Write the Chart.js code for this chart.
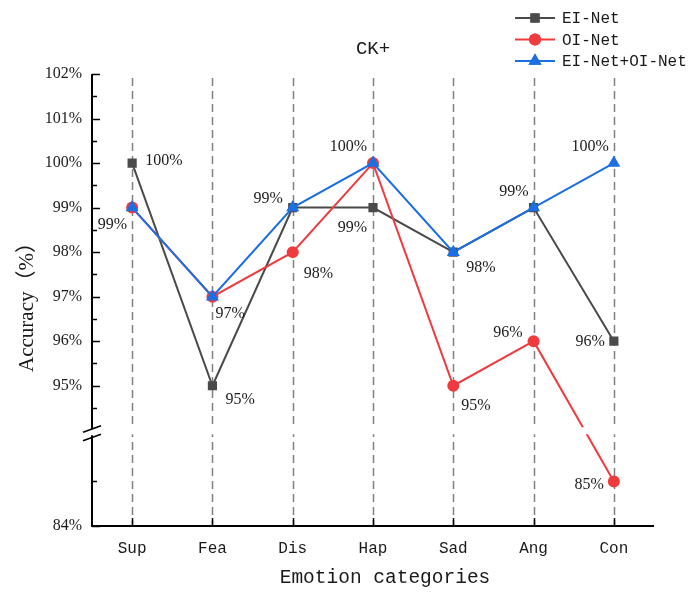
<!DOCTYPE html>
<html><head><meta charset="utf-8">
<script src="https://cdn.jsdelivr.net/npm/chart.js@4/dist/chart.umd.min.js"></script>
<style>html,body{margin:0;padding:0;background:#fff}</style>
</head><body>
<canvas id="c" width="688" height="592"></canvas>
<script>
// ---- data ----
const categories = ['Sup', 'Fea', 'Dis', 'Hap', 'Sad', 'Ang', 'Con'];
const seriesNames = ['EI-Net', 'OI-Net', 'EI-Net+OI-Net'];
const eiNet   = [100, 95, 99, 99, 98, 99, 96];
const oiNet   = [99, 97, 98, 100, 95, 96, 85];
const eiOiNet = [99, 97, 99, 100, 98, 99, 100];
const yTickValues = [84, 85, 94.5, 95, 95.5, 96, 96.5, 97, 97.5, 98, 98.5, 99, 99.5, 100, 100.5, 101, 101.5, 102];
const yLabeledTicks = [84, 95, 96, 97, 98, 99, 100, 101, 102];
const yMinValue = 84, yMaxValue = 102;
const breakValue = 94;          // axis break (upper side)
const chartTitle = 'CK+';
const xTitle = 'Emotion categories';
const yTitle = 'Accuracy（%）';

// ---- broken-axis mapping ----
const GAP = 7.85;
const toDisp = v => v >= 90 ? v - GAP : v;
const toReal = d => d >= breakValue - GAP ? d + GAP : d;

const colors = ['#4a4a4a', '#ef3b3e', '#1b6fe3'];
const styles = ['rect', 'circle', 'triangle'];
const radii = [6.5, 6, 7.5];
const seriesData = [eiNet, oiNet, eiOiNet];

// value label placement: [series, index, dx, dy, align]
const valueLabels = [
  [0, 0, 13, -2, 'left'], [2, 0, -5, 17, 'right'],
  [0, 1, 13, 14, 'left'], [2, 1, 3, 17, 'left'],
  [2, 2, -10, -9, 'right'], [1, 2, 11, 22, 'left'],
  [2, 3, -6, -16, 'right'], [0, 3, -6, 20, 'right'],
  [2, 4, 13, 16, 'left'], [1, 4, 8, 20, 'left'],
  [1, 5, -11, -8, 'right'], [2, 5, -5, -16, 'right'],
  [2, 6, -5, -16, 'right'], [0, 6, -9, 1, 'right'], [1, 6, -10, 3, 'right']
];

const serif = '"Liberation Serif", "Times New Roman", serif';
const mono = '"Liberation Mono", "DejaVu Sans Mono", monospace';

const datasets = seriesData.map((arr, i) => ({
  label: seriesNames[i],
  data: arr.map(toDisp),
  borderColor: colors[i],
  backgroundColor: colors[i],
  pointBackgroundColor: colors[i],
  pointBorderColor: colors[i],
  pointStyle: styles[i],
  pointRadius: radii[i],
  pointBorderWidth: 0,
  borderWidth: 2,
  tension: 0,
  order: 3 - i
}));

const decor = {
  id: 'decor',
  beforeDatasetsDraw(chart) {
    const { ctx, chartArea: a, scales: { x } } = chart;
    ctx.save();
    ctx.strokeStyle = '#808080';
    ctx.lineWidth = 1.5;
    ctx.setLineDash([8, 5]);
    categories.forEach((c, i) => {
      const px = Math.round(x.getPixelForValue(i)) + 0.5;
      ctx.beginPath();
      ctx.moveTo(px, a.top + 4);
      ctx.lineTo(px, a.bottom);
      ctx.stroke();
    });
    ctx.restore();
  },
  afterDatasetsDraw(chart) {
    const { ctx, chartArea: a, scales: { y } } = chart;
    const by = y.getPixelForValue(breakValue - GAP);
    ctx.save();
    ctx.fillStyle = '#fff';
    ctx.fillRect(a.left + 2, by - 3, a.right - a.left, 7);
    // value labels
    ctx.fillStyle = '#1a1a1a';
    ctx.font = '16px ' + serif;
    ctx.textBaseline = 'middle';
    const xs = chart.scales.x;
    valueLabels.forEach(([s, i, dx, dy, al]) => {
      const v = seriesData[s][i];
      const px = xs.getPixelForValue(i), py = y.getPixelForValue(toDisp(v));
      ctx.textAlign = al;
      ctx.fillText(v + '%', px + dx, py + dy);
    });
    ctx.restore();
  },
  afterDraw(chart) {
    const { ctx, chartArea: a, scales: { x, y } } = chart;
    ctx.save();
    ctx.strokeStyle = '#000';
    ctx.lineWidth = 2;
    ctx.beginPath();
    ctx.moveTo(a.left, a.top);
    ctx.lineTo(a.left, a.bottom);
    ctx.lineTo(a.right, a.bottom);
    ctx.stroke();
    // y ticks (inward)
    ctx.lineWidth = 1.5;
    yTickValues.forEach(v => {
      const py = Math.round(y.getPixelForValue(toDisp(v))) + 0.5;
      const len = yLabeledTicks.includes(v) ? 8 : 5;
      ctx.beginPath();
      ctx.moveTo(a.left, py);
      ctx.lineTo(a.left + len, py);
      ctx.stroke();
    });
    // x ticks (inward)
    categories.forEach((c, i) => {
      const px = Math.round(x.getPixelForValue(i)) + 0.5;
      ctx.beginPath();
      ctx.moveTo(px, a.bottom);
      ctx.lineTo(px, a.bottom - 8);
      ctx.stroke();
    });
    // axis break
    const by = y.getPixelForValue(breakValue - GAP);
    ctx.fillStyle = '#fff';
    ctx.fillRect(a.left - 3, by - 1, 6, 6);
    ctx.strokeStyle = '#000';
    ctx.lineWidth = 1.8;
    [-1, 7.5].forEach(o => {
      ctx.beginPath();
      ctx.moveTo(a.left - 9, by + o + 3);
      ctx.lineTo(a.left + 9, by + o - 3.5);
      ctx.stroke();
    });
    // titles
    ctx.fillStyle = '#1a1a1a';
    ctx.textAlign = 'center';
    ctx.textBaseline = 'middle';
    ctx.font = '19px ' + mono;
    ctx.fillText(chartTitle, 373, 49);
    ctx.font = '19.5px ' + mono;
    ctx.fillText(xTitle, (a.left + a.right) / 2 + 12, 578);
    ctx.save();
    ctx.translate(27, 302);
    ctx.rotate(-Math.PI / 2);
    ctx.font = '21px ' + serif + ', "Noto Sans CJK SC"';
    ctx.fillText(yTitle, 0, 0);
    ctx.restore();
    // legend
    ctx.font = '16px ' + mono;
    ctx.textAlign = 'left';
    seriesNames.forEach((n, i) => {
      const ly = 18 + i * 21.5;
      ctx.strokeStyle = colors[i];
      ctx.lineWidth = 2;
      ctx.beginPath();
      ctx.moveTo(515, ly);
      ctx.lineTo(555, ly);
      ctx.stroke();
      ctx.fillStyle = colors[i];
      Chart.helpers.drawPoint(ctx, { pointStyle: styles[i], radius: radii[i], borderWidth: 0 }, 535, ly);
      ctx.fill();
      ctx.fillStyle = '#1a1a1a';
      ctx.fillText(n, 562, ly + 1);
    });
    ctx.restore();
  }
};

new Chart(document.getElementById('c'), {
  type: 'line',
  data: { labels: categories, datasets },
  options: {
    responsive: false,
    animation: false,
    layout: { padding: { left: 0, right: 34, top: 74, bottom: 0 } },
    plugins: { legend: { display: false }, tooltip: { enabled: false }, title: { display: false } },
    scales: {
      x: {
        offset: true,
        grid: { display: false, drawTicks: false },
        border: { display: false },
        ticks: { font: { family: mono, size: 16 }, color: '#1a1a1a', padding: 13, autoSkip: false, maxRotation: 0 },
        afterFit(s) { s.height = 66; }
      },
      y: {
        min: toDisp(yMinValue),
        max: toDisp(yMaxValue),
        grid: { display: false, drawTicks: false },
        border: { display: false },
        afterBuildTicks(s) { s.ticks = yTickValues.map(v => ({ value: toDisp(v) })); },
        ticks: {
          autoSkip: false,
          font: { family: serif, size: 16 },
          color: '#1a1a1a',
          padding: 10,
          callback(val) {
            const r = Math.round(toReal(val) * 2) / 2;
            return yLabeledTicks.includes(r) ? r + '%' : '';
          }
        },
        afterFit(s) { s.width = 92; }
      }
    }
  },
  plugins: [decor]
});
</script>
</body></html>
